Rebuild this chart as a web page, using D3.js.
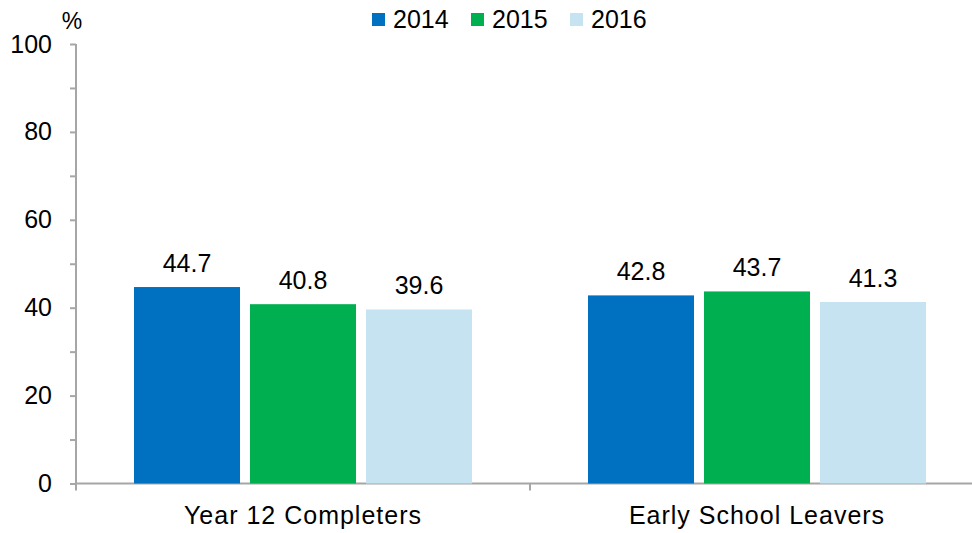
<!DOCTYPE html>
<html>
<head>
<meta charset="utf-8">
<script src="https://cdn.jsdelivr.net/npm/d3@7/dist/d3.min.js"></script>
<style>
  body { margin: 0; background: #fff; }
  svg { display: block; font-family: Arial, "Liberation Sans", sans-serif; }
  .axis path, .axis line { stroke: #a6a6a6; stroke-width: 2; }
  .axis text { fill: #000; font-size: 25px; }
</style>
</head>
<body>
<svg id="chart" width="972" height="533"></svg>
<script>
const categories = ['Year 12 Completers', 'Early School Leavers'];
const years = ['2014', '2015', '2016'];
const values2014 = [44.7, 42.8];
const values2015 = [40.8, 43.7];
const values2016 = [39.6, 41.3];
const colours = ['#0070c0', '#00b050', '#c6e3f1'];
const yTicks = [0, 20, 40, 60, 80, 100];

const series = [values2014, values2015, values2016];

const chart = d3.select('#chart');
const plotLeft = 76, plotRight = 984, plotTop = 44, plotBottom = 483.5;

const x = d3.scaleBand().domain(categories).range([plotLeft, plotRight]);
const y = d3.scaleLinear().domain([0, 100]).range([plotBottom, plotTop]);

// bars sit in a 338px group centred in each band
const inner = d3.scaleBand().domain(years).range([0, 338]).paddingInner(0.086);
const groupOffset = (x.bandwidth() - 338) / 2;

// y axis with minor ticks every 10
const yAxis = chart.append('g').attr('class', 'axis')
  .attr('transform', `translate(${plotLeft},0)`)
  .call(d3.axisLeft(y).tickValues(d3.range(0, 101, 10)).tickSize(6).tickSizeOuter(0)
    .tickFormat(d => yTicks.includes(d) ? d : ''));
yAxis.selectAll('text').attr('x', -24);
yAxis.select('.domain').attr('d', `M0,${plotTop}V${plotBottom}`);

// x axis, ticks between categories
const xAxis = chart.append('g').attr('class', 'axis')
  .attr('transform', `translate(0,${plotBottom})`);
xAxis.append('line').attr('x1', plotLeft).attr('x2', plotRight).attr('y1', 0).attr('y2', 0);
xAxis.selectAll('.tick-mark')
  .data([plotLeft, ...categories.slice(1).map(c => x(c))])
  .join('line')
  .attr('x1', d => d).attr('x2', d => d).attr('y1', 0).attr('y2', 7);
xAxis.selectAll('.cat')
  .data(categories)
  .join('text')
  .attr('x', d => x(d) + x.bandwidth() / 2)
  .attr('y', 40)
  .attr('text-anchor', 'middle')
  .attr('letter-spacing', 1)
  .text(d => d);

years.forEach((yr, i) => {
  const g = chart.append('g');
  g.selectAll('rect')
    .data(series[i])
    .join('rect')
    .attr('x', (d, j) => x(categories[j]) + groupOffset + inner(yr))
    .attr('y', d => y(d))
    .attr('width', inner.bandwidth())
    .attr('height', d => plotBottom - y(d))
    .attr('fill', colours[i]);
  g.selectAll('text')
    .data(series[i])
    .join('text')
    .attr('x', (d, j) => x(categories[j]) + groupOffset + inner(yr) + inner.bandwidth() / 2)
    .attr('y', d => y(d) - 15)
    .attr('text-anchor', 'middle')
    .attr('font-size', 25)
    .attr('fill', '#000')
    .text(d => d.toFixed(1));
});

chart.append('text')
  .attr('x', 72).attr('y', 29)
  .attr('text-anchor', 'middle')
  .attr('font-size', 23)
  .text('%');

// legend
const legend = chart.append('g').attr('transform', 'translate(372,0)');
years.forEach((yr, i) => {
  const item = legend.append('g').attr('transform', `translate(${i * 99},0)`);
  item.append('rect').attr('x', 0).attr('y', 13).attr('width', 13).attr('height', 13).attr('fill', colours[i]);
  item.append('text').attr('x', 21).attr('y', 28).attr('font-size', 25).text(yr);
});
</script>
</body>
</html>
